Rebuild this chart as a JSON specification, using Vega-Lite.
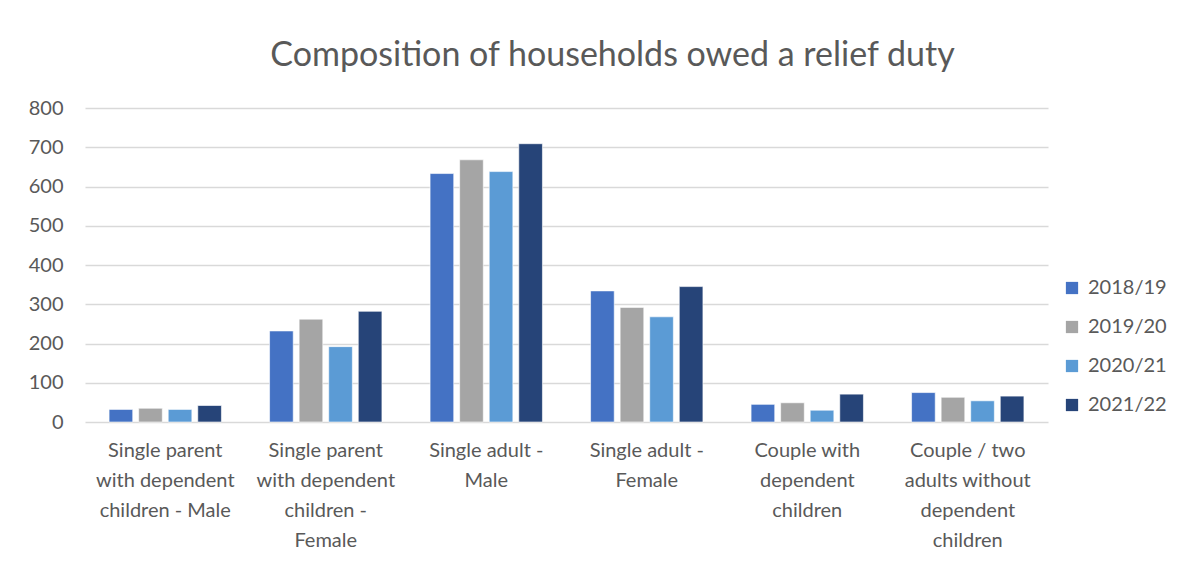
{
  "$schema": "https://vega.github.io/schema/vega-lite/v6.json",
  "width": 963,
  "height": 314,
  "autosize": {"type": "none"},
  "padding": {"left": 85, "top": 108, "right": 155, "bottom": 144},
  "background": "white",
  "title": {
    "text": "Composition of households owed a relief duty",
    "font": "Lato",
    "fontSize": 34,
    "fontWeight": "normal",
    "color": "#595959",
    "anchor": "middle",
    "dx": 46,
    "offset": 25
  },
  "data": {
    "values": [
      {"category": "Single parent with dependent children - Male", "year": "2018/19", "value": 32},
      {"category": "Single parent with dependent children - Male", "year": "2019/20", "value": 35},
      {"category": "Single parent with dependent children - Male", "year": "2020/21", "value": 32},
      {"category": "Single parent with dependent children - Male", "year": "2021/22", "value": 42},
      {"category": "Single parent with dependent children - Female", "year": "2018/19", "value": 232},
      {"category": "Single parent with dependent children - Female", "year": "2019/20", "value": 262},
      {"category": "Single parent with dependent children - Female", "year": "2020/21", "value": 192},
      {"category": "Single parent with dependent children - Female", "year": "2021/22", "value": 282},
      {"category": "Single adult - Male", "year": "2018/19", "value": 633},
      {"category": "Single adult - Male", "year": "2019/20", "value": 668},
      {"category": "Single adult - Male", "year": "2020/21", "value": 638},
      {"category": "Single adult - Male", "year": "2021/22", "value": 709},
      {"category": "Single adult - Female", "year": "2018/19", "value": 334},
      {"category": "Single adult - Female", "year": "2019/20", "value": 292},
      {"category": "Single adult - Female", "year": "2020/21", "value": 268},
      {"category": "Single adult - Female", "year": "2021/22", "value": 345},
      {"category": "Couple with dependent children", "year": "2018/19", "value": 45},
      {"category": "Couple with dependent children", "year": "2019/20", "value": 49},
      {"category": "Couple with dependent children", "year": "2020/21", "value": 30},
      {"category": "Couple with dependent children", "year": "2021/22", "value": 71},
      {"category": "Couple / two adults without dependent children", "year": "2018/19", "value": 75},
      {"category": "Couple / two adults without dependent children", "year": "2019/20", "value": 63},
      {"category": "Couple / two adults without dependent children", "year": "2020/21", "value": 54},
      {"category": "Couple / two adults without dependent children", "year": "2021/22", "value": 66}
    ]
  },
  "mark": {"type": "bar", "stroke": "white", "strokeWidth": 0.6},
  "encoding": {
    "x": {
      "field": "category",
      "type": "nominal",
      "sort": null,
      "title": null,
      "scale": {"paddingInner": 0.3, "paddingOuter": 0.15},
      "axis": {
        "labelAngle": 0,
        "labelFont": "Lato",
        "labelFontSize": 20,
        "labelColor": "#595959",
        "labelLineHeight": 30,
        "labelPadding": 18,
        "labelLimit": 0,
        "ticks": false,
        "domain": false,
        "labelExpr": "{'Single parent with dependent children - Male': ['Single parent', 'with dependent', 'children  -  Male'], 'Single parent with dependent children - Female': ['Single parent', 'with dependent', 'children -', 'Female'], 'Single adult - Male': ['Single adult  -', 'Male'], 'Single adult - Female': ['Single adult  -', 'Female'], 'Couple with dependent children': ['Couple with', 'dependent', 'children'], 'Couple / two adults without dependent children': ['Couple / two', 'adults without', 'dependent', 'children']}[datum.label]"
      }
    },
    "xOffset": {"field": "year", "type": "nominal", "scale": {"paddingInner": 0.2}},
    "y": {
      "field": "value",
      "type": "quantitative",
      "title": null,
      "scale": {"domain": [0, 800]},
      "axis": {
        "values": [0, 100, 200, 300, 400, 500, 600, 700, 800],
        "labelFont": "Lato",
        "labelFontSize": 20,
        "labelColor": "#595959",
        "labelPadding": 22,
        "ticks": false,
        "domain": false,
        "gridColor": "#d9d9d9",
        "gridWidth": 1.5
      }
    },
    "color": {
      "field": "year",
      "type": "nominal",
      "title": null,
      "scale": {
        "domain": ["2018/19", "2019/20", "2020/21", "2021/22"],
        "range": ["#4472C4", "#A5A5A5", "#5B9BD5", "#264478"]
      },
      "legend": {
        "orient": "none",
        "legendX": 977,
        "legendY": 170,
        "symbolType": "square",
        "symbolSize": 150,
        "symbolStrokeWidth": 0,
        "labelFont": "Lato",
        "labelFontSize": 20,
        "labelColor": "#595959",
        "rowPadding": 19,
        "labelOffset": 6
      }
    }
  },
  "config": {"view": {"stroke": null}}
}
